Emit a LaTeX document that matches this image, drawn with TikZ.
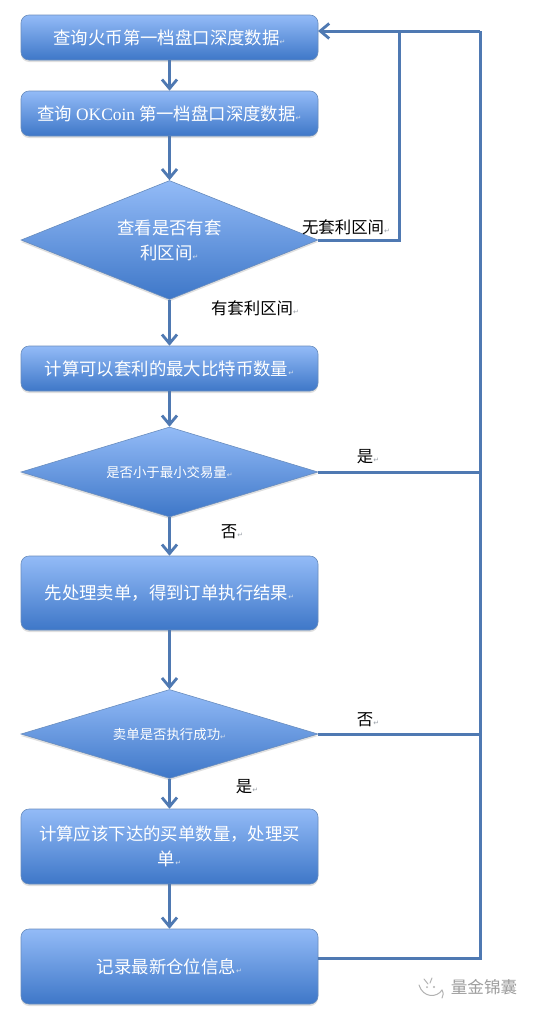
\documentclass[tikz,border=0pt]{standalone}
\usepackage{fontspec}
\usetikzlibrary{shapes.geometric,shadows,arrows.meta,calc}
\newfontfamily\cjk{Noto Sans CJK SC}[Scale=1]
\newfontfamily\latinf{Liberation Serif}
\newfontfamily\markf{DejaVu Sans}
\definecolor{linec}{HTML}{4F79B2}
\definecolor{topc}{HTML}{93BBF7}
\definecolor{botc}{HTML}{3E77C8}
\definecolor{markc}{HTML}{9AA0A8}
\newcommand{\retw}{{\markf\fontsize{7}{7}\selectfont\textcolor{white!75!linec}{↵}}}
\newcommand{\retb}{{\markf\fontsize{7}{7}\selectfont\textcolor{markc}{↵}}}
\tikzset{
  x=1pt,y=-1pt,
  fillshape/.style={draw=linec!85!white,line width=.6pt,top color=topc,bottom color=botc,middle color=topc!50!botc,
    text=white,font=\cjk\fontsize{17.4}{25}\selectfont,align=center,inner sep=0pt,
    drop shadow={shadow xshift=0pt,shadow yshift=-2pt,opacity=.25,fill=gray}},
  procbox/.style={fillshape,rectangle,rounded corners=8pt,minimum width=297pt},
  decision/.style={fillshape,diamond,minimum width=297pt},
  flow/.style={draw=linec,line width=3pt,-{Straight Barb[length=9pt,width=15pt,line width=2.8pt]}},
  flowline/.style={draw=linec,line width=3pt,line join=miter},
  lbl/.style={text=black,font=\cjk\fontsize{16.4}{18}\selectfont,inner sep=0pt},
  wm/.style={text=black!38,font=\cjk\fontsize{16.6}{18}\selectfont,inner sep=0pt},
}
\begin{document}
\begin{tikzpicture}
\useasboundingbox[fill=white] (0,0) rectangle (535,1012);
\node[procbox,minimum height=45pt] (b1) at (169.5,37.5) {查询火币第一档盘口深度数据\retw};
\node[procbox,minimum height=45pt] (b2) at (169.5,113.5) {查询 {\latinf OKCoin} 第一档盘口深度数据\retw};
\node[decision,minimum height=119pt,shape aspect=2.5] (d1) at (169.5,240) {查看是否有套\\利区间\retw};
\node[procbox,minimum height=45pt] (b3) at (169.5,368.5) {计算可以套利的最大比特币数量\retw};
\node[decision,minimum height=90pt,shape aspect=3.3,font=\cjk\fontsize{13.4}{18}\selectfont] (d2) at (169.5,472) {是否小于最小交易量\retw};
\node[procbox,minimum height=74pt] (b4) at (169.5,593) {先处理卖单，得到订单执行结果\retw};
\node[decision,minimum height=89pt,shape aspect=3.34,font=\cjk\fontsize{13.4}{18}\selectfont] (d3) at (169.5,734) {卖单是否执行成功\retw};
\node[procbox,minimum height=75pt] (b5) at (169.5,846.5) {计算应该下达的买单数量，处理买\\单\retw};
\node[procbox,minimum height=75pt] (b6) at (169.5,966.5) {记录最新仓位信息\retw};

\node[lbl] (l1) at (346,227) {无套利区间\retb};
\node[lbl] (l2) at (255,308) {有套利区间\retb};
\node[lbl] (l3) at (368,457) {是\retb};
\node[lbl] (l4) at (232,532) {否\retb};
\node[lbl] (l5) at (368,720) {否\retb};
\node[lbl] (l6) at (247,787) {是\retb};
\node[wm] (w1) at (484,987) {量金锦囊};

\coordinate (in1) at (318,31);
\coordinate (t1) at (399,31);
\coordinate (t2) at (480,31);
\coordinate (m1b) at (399,240);
\coordinate (m2) at (480,472);
\coordinate (m3) at (480,734);
\coordinate (m4) at (480,958);
\coordinate (e6) at (318,958);

\draw[flow] (b1) -- (b2);
\draw[flow] (b2) -- (d1);
\draw[flow] (d1) -- (b3);
\draw[flow] (b3) -- (d2);
\draw[flow] (d2) -- (b4);
\draw[flow] (b4) -- (d3);
\draw[flow] (d3) -- (b5);
\draw[flow] (b5) -- (b6);
\draw[flowline] (d1.east) -- (m1b) -- (t1);
\draw[flowline] (e6) -- (m4) -- (t2);
\draw[flow] (t2) -- (in1);
\draw[flowline] (d2.east) -- (m2);
\draw[flowline] (d3.east) -- (m3);

% watermark icon
\draw[black!30,line width=1pt,line cap=round] (419,985) .. controls (423,998) and (437,998) .. (442,990);
\draw[black!30,line width=1pt,line cap=round] (442,990) .. controls (444,994) and (443,995) .. (442,998);
\draw[black!30,line width=1pt,line cap=round] (424,979) -- (428,984);
\draw[black!30,line width=1pt,line cap=round] (432,978) -- (430,983);
\fill[black!30] (434,987) circle (1.2pt) (427,987) circle (1pt);
\end{tikzpicture}
\end{document}
